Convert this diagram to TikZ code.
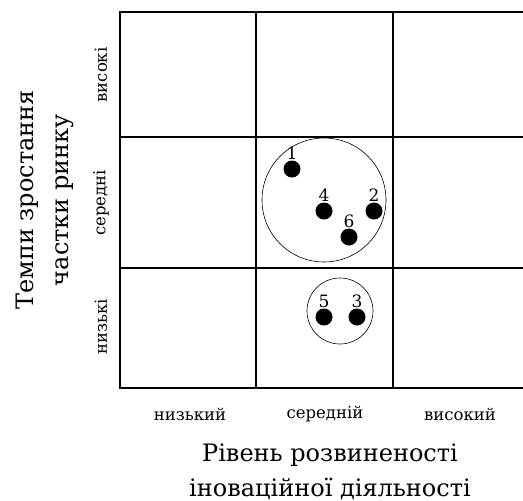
\documentclass[tikz,border=0pt]{standalone}
\usepackage{fontspec}
\setmainfont{DejaVu Serif}
\usetikzlibrary{positioning}

\begin{document}
\begin{tikzpicture}[
  x=1pt, y=-1pt,
  grid/.style={draw, line width=1.2pt},
  ring/.style={draw, circle, line width=0.6pt, inner sep=0pt},
  dot/.style={circle, fill=black, inner sep=0pt, minimum size=17pt,
              label distance=0pt,
              label={[font=\fontsize{17}{17}\selectfont, inner sep=0.5pt]above:#1}},
  level/.style={font=\fontsize{16.5}{18}\selectfont},
  axis/.style={font=\fontsize{24}{35}\selectfont, align=center},
]
\useasboundingbox (0,0) rectangle (523,501);
% grid
\coordinate (tl) at (120,12);
\coordinate (bl) at (120,388);
\draw[grid] (523,12) -- (tl) -- (bl) -- (523,388);
\draw[grid] (120,137) -- (523,137);
\draw[grid] (120,268) -- (523,268);
\draw[grid] (256,12) -- (256,388);
\draw[grid] (393,12) -- (393,388);
% groups
\node[ring, minimum size=124pt] (big) at (324,200) {};
\node[ring, minimum size=66pt] (small) at (340,311) {};
\node[dot=1] (p1) at (292,169) {};
\node[dot=4] (p4) at (324,211) {};
\node[dot=2] (p2) at (374,211) {};
\node[dot=6] (p6) at (349,237) {};
\node[dot=5] (p5) at (324,317) {};
\node[dot=3] (p3) at (357,317) {};
% levels
\node[level] (xlow) at (190,414) {низький};
\node[level] (xmid) at (325,414) {середній};
\node[level] (xhigh) at (460,414) {високий};
\node[level, rotate=90] (yhigh) at (101,75) {високі};
\node[level, rotate=90] (ymid) at (101,203) {середні};
\node[level, rotate=90] (ylow) at (101,327) {низькі};
% axis titles
\node[axis] (xtitle) at (330,472) {Рівень розвиненості\\іноваційної діяльності};
\node[axis, rotate=90] (ytitle) at (45,200) {Темпи зростання\\частки ринку};
\end{tikzpicture}
\end{document}
